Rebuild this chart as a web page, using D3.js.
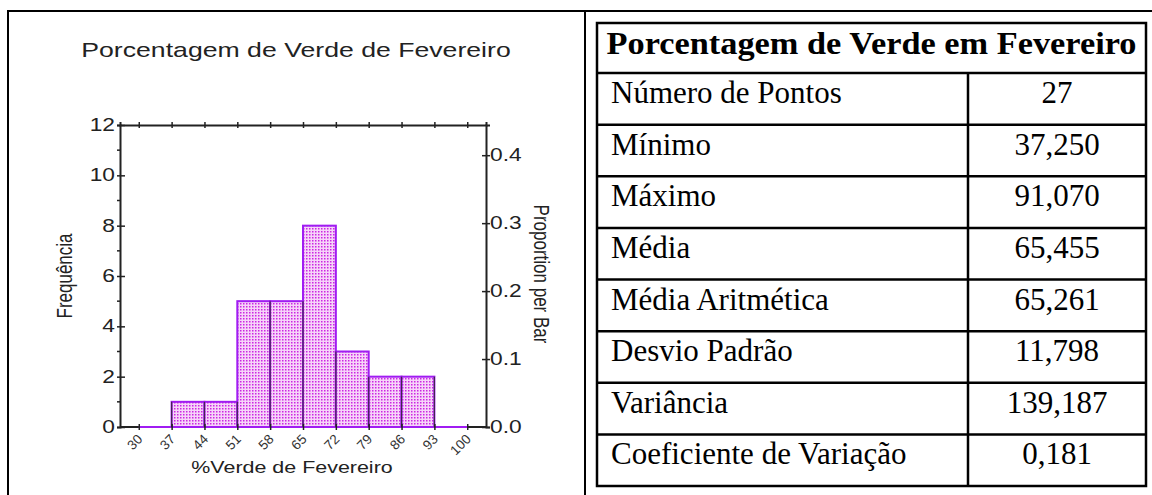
<!DOCTYPE html>
<html>
<head>
<meta charset="utf-8">
<script src="https://cdn.jsdelivr.net/npm/d3@7"></script>
<style>
  body { margin: 0; background: #fff; }
  svg { display: block; }
</style>
</head>
<body>
<svg width="1152" height="495"></svg>
<script>
// histogram data
const binEdges = [37, 44, 51, 58, 65, 72, 79, 86, 93];
const counts = [1, 1, 5, 5, 8, 3, 2, 2];
const nPoints = 27;
const xTicks = [30, 37, 44, 51, 58, 65, 72, 79, 86, 93, 100];
const yTicks = [0, 2, 4, 6, 8, 10, 12];
const yMinor = [1, 3, 5, 7, 9, 11];
const propTicks = [0, 0.1, 0.2, 0.3, 0.4];

const chartTitle = "Porcentagem de Verde de Fevereiro";
const xTitle = "%Verde de Fevereiro";
const yTitle = "Frequência";
const y2Title = "Proportion per Bar";

// stats table
const tableTitle = "Porcentagem de Verde em Fevereiro";
const statLabels = ["Número de Pontos", "Mínimo", "Máximo", "Média", "Média Aritmética",
                    "Desvio Padrão", "Variância", "Coeficiente de Variação"];
const statValues = ["27", "37,250", "91,070", "65,455", "65,261", "11,798", "139,187", "0,181"];

const purple = "#a01cf2";
const axisColor = "#222";
const sans = "Liberation Sans, Arial, sans-serif";
const serif = "Liberation Serif, Times New Roman, serif";
const sx = 1.3; // the original picture is stretched sideways

var svg = d3.select("svg");

// frame lines
svg.append("g").selectAll("line")
    .data([[7, 11, 1152, 11], [8, 11, 8, 495], [585, 11, 585, 495]])
    .enter().append("line")
    .attr("x1", d => d[0]).attr("y1", d => d[1])
    .attr("x2", d => d[2]).attr("y2", d => d[3])
    .attr("stroke", "#000").attr("stroke-width", 2);

// ---------- histogram ----------
var x = d3.scaleLinear().domain([26, 104]).range([120, 486]);
var y = d3.scaleLinear().domain([0, 12]).range([427, 125]);
var yProp = d3.scaleLinear().domain([0, 12 / nPoints]).range([427, 125]);

var defs = svg.append("defs");
var pat = defs.append("pattern")
    .attr("id", "dots")
    .attr("width", 3).attr("height", 3)
    .attr("patternUnits", "userSpaceOnUse");
pat.append("rect").attr("width", 3).attr("height", 3).attr("fill", "#f6d4f9");
pat.append("rect").attr("width", 1.5).attr("height", 1.5).attr("fill", "#cc26e2");

var chart = svg.append("g").attr("class", "chart");

function stretched(sel, tx, ty) {
    sel.attr("x", null).attr("transform", "translate(" + tx + "," + ty + ") scale(" + sx + ",1)");
}

// title
chart.append("text")
    .attr("transform", "translate(296,57) scale(" + sx + ",1)")
    .attr("text-anchor", "middle")
    .style("font-family", sans)
    .style("font-size", "20.5px")
    .attr("fill", "#222")
    .text(chartTitle);

// bottom axis black line then purple baseline
chart.append("line")
    .attr("x1", x.range()[0]).attr("x2", x.range()[1])
    .attr("y1", y(0)).attr("y2", y(0))
    .attr("stroke", axisColor).attr("stroke-width", 2);

chart.append("g").selectAll("rect")
    .data(counts)
    .enter().append("rect")
    .attr("x", (d, i) => x(binEdges[i]))
    .attr("width", (d, i) => x(binEdges[i + 1]) - x(binEdges[i]))
    .attr("y", d => y(d))
    .attr("height", d => y(0) - y(d))
    .attr("fill", "url(#dots)")
    .attr("stroke", purple)
    .attr("stroke-width", 2);

chart.append("line")
    .attr("x1", x(xTicks[0])).attr("x2", x(xTicks[xTicks.length - 1]))
    .attr("y1", y(0)).attr("y2", y(0))
    .attr("stroke", purple).attr("stroke-width", 2);

// darker shared edges between bars
chart.append("g").selectAll("line")
    .data(binEdges)
    .enter().append("line")
    .attr("x1", d => x(d)).attr("x2", d => x(d))
    .attr("y1", y(0))
    .attr("y2", (d, i) => {
        var l = i > 0 ? counts[i - 1] : 0;
        var r = i < counts.length ? counts[i] : 0;
        var h = (l && r) ? Math.min(l, r) : Math.max(l, r);
        return y(h);
    })
    .attr("stroke", "#43254f").attr("stroke-width", 1.2);

// left axis
var leftAxis = chart.append("g")
    .attr("transform", "translate(" + x.range()[0] + ",0)")
    .call(d3.axisLeft(y).tickValues(yTicks).tickSize(3).tickPadding(4));
leftAxis.select(".domain").attr("stroke", axisColor).attr("stroke-width", 2);
leftAxis.selectAll(".tick line").attr("x1", 5).attr("x2", -3).attr("stroke", axisColor).attr("stroke-width", 1.5);
leftAxis.selectAll(".tick text").each(function () {
    stretched(d3.select(this), -5, 0);
}).style("font-family", sans).style("font-size", "17.5px").attr("fill", "#222");

chart.append("g").selectAll("line")
    .data(yMinor)
    .enter().append("line")
    .attr("x1", x.range()[0] - 3).attr("x2", x.range()[0])
    .attr("y1", d => y(d)).attr("y2", d => y(d))
    .attr("stroke", axisColor).attr("stroke-width", 1.5);

// right axis
var rightAxis = chart.append("g")
    .attr("transform", "translate(" + x.range()[1] + ",0)")
    .call(d3.axisRight(yProp).tickValues(propTicks).tickFormat(d3.format(".1f")).tickSize(4));
rightAxis.select(".domain").attr("stroke", axisColor).attr("stroke-width", 2);
rightAxis.selectAll(".tick line").attr("x1", -4).attr("x2", 4).attr("stroke", axisColor).attr("stroke-width", 1.5);
rightAxis.selectAll(".tick text").each(function () {
    stretched(d3.select(this), 4, 0);
}).style("font-family", sans).style("font-size", "17.5px").attr("fill", "#222");

// top axis line with crossing ticks
var topAxis = chart.append("g")
    .attr("transform", "translate(0," + y.range()[1] + ")")
    .call(d3.axisTop(x).tickValues(xTicks).tickFormat("").tickSize(3));
topAxis.select(".domain").attr("stroke", axisColor).attr("stroke-width", 2);
topAxis.selectAll(".tick line").attr("y1", 3).attr("y2", -3).attr("stroke", axisColor).attr("stroke-width", 1.5);

// bottom ticks and rotated labels
var bottomAxis = chart.append("g")
    .attr("transform", "translate(0," + y(0) + ")")
    .call(d3.axisBottom(x).tickValues(xTicks).tickSize(3));
bottomAxis.select(".domain").remove();
bottomAxis.selectAll(".tick line").attr("y1", -3).attr("y2", 3).attr("stroke", axisColor).attr("stroke-width", 1.5);
bottomAxis.selectAll(".tick text")
    .attr("x", null).attr("y", null).attr("dy", null)
    .attr("transform", "translate(4,13) rotate(-45)")
    .attr("text-anchor", "end")
    .style("font-family", sans)
    .style("font-size", "13.5px")
    .attr("fill", "#333");

// axis titles
chart.append("text")
    .attr("transform", "translate(292,473) scale(" + sx + ",1)")
    .attr("text-anchor", "middle")
    .style("font-family", sans)
    .style("font-size", "16.5px")
    .attr("fill", "#222")
    .text(xTitle);

chart.append("text")
    .attr("transform", "translate(72,276) rotate(-90) scale(1," + sx + ")")
    .attr("text-anchor", "middle")
    .style("font-family", sans)
    .style("font-size", "17px")
    .attr("fill", "#222")
    .text(yTitle);

chart.append("text")
    .attr("transform", "translate(534,274) rotate(90) scale(1," + sx + ")")
    .attr("text-anchor", "middle")
    .style("font-family", sans)
    .style("font-size", "17px")
    .attr("fill", "#222")
    .text(y2Title);

// ---------- stats table ----------
var tLeft = 597, tRight = 1146, tTop = 23, headBottom = 73, tBottom = 486, colX = 968;
var rowY = d3.scaleLinear().domain([0, statLabels.length]).range([headBottom, tBottom]);

var table = svg.append("g").attr("class", "table");

table.append("rect")
    .attr("x", tLeft).attr("y", tTop)
    .attr("width", tRight - tLeft).attr("height", tBottom - tTop)
    .attr("fill", "none").attr("stroke", "#000").attr("stroke-width", 2.5);

table.append("g").selectAll("line")
    .data(d3.range(statLabels.length))
    .enter().append("line")
    .attr("x1", tLeft).attr("x2", tRight)
    .attr("y1", d => rowY(d)).attr("y2", d => rowY(d))
    .attr("stroke", "#000").attr("stroke-width", 2.5);

table.append("line")
    .attr("x1", colX).attr("x2", colX)
    .attr("y1", headBottom).attr("y2", tBottom)
    .attr("stroke", "#000").attr("stroke-width", 2.5);

table.append("text")
    .attr("x", (tLeft + tRight) / 2).attr("y", tTop + 31)
    .attr("text-anchor", "middle")
    .attr("textLength", 530)
    .attr("lengthAdjust", "spacingAndGlyphs")
    .style("font-family", serif)
    .style("font-weight", "bold")
    .style("font-size", "31px")
    .text(tableTitle);

var rows = table.append("g").selectAll("g")
    .data(statLabels)
    .enter().append("g");

rows.append("text")
    .attr("x", tLeft + 14)
    .attr("y", (d, i) => rowY(i) + 30)
    .style("font-family", serif)
    .style("font-size", "31px")
    .text(d => d);

rows.append("text")
    .attr("x", (colX + tRight) / 2)
    .attr("y", (d, i) => rowY(i) + 30)
    .attr("text-anchor", "middle")
    .style("font-family", serif)
    .style("font-size", "31px")
    .text((d, i) => statValues[i]);
</script>
</body>
</html>
